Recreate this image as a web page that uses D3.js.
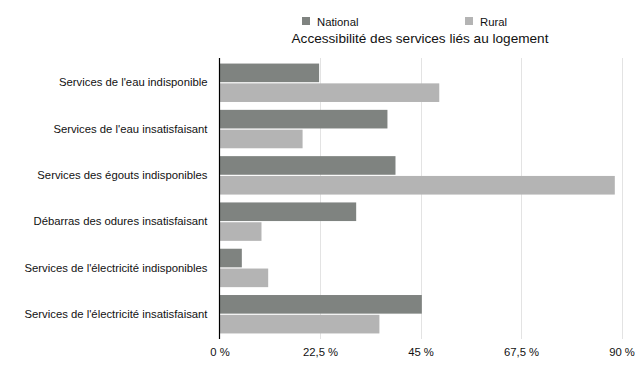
<!DOCTYPE html>
<html>
<head>
<meta charset="utf-8">
<script src="https://cdn.jsdelivr.net/npm/d3@7"></script>
<style>
  body { margin: 0; background: #fff; }
  text { font-family: "Liberation Sans", Arial, sans-serif; }
</style>
</head>
<body>
<div id="chart"></div>
<script>
// data
let categories = [
    "Services de l'eau indisponible",
    "Services de l'eau insatisfaisant",
    "Services des égouts indisponibles",
    "Débarras des odures insatisfaisant",
    "Services de l'électricité indisponibles",
    "Services de l'électricité insatisfaisant"
];
let series = ["National", "Rural"];
let nationalValues = [22.3, 37.6, 39.4, 30.6, 5.0, 45.3];
let ruralValues = [49.2, 18.6, 88.5, 9.4, 10.9, 35.8];
let tickValues = [0, 22.5, 45, 67.5, 90];
let colors = ["#7f8380", "#b4b4b4"];

let width = 640, height = 368;
let plot = {left: 219.5, right: 621.5, top: 58, bottom: 339}; //px

let svg = d3.select("#chart")
    .append("svg")
    .attr("width", width)
    .attr("height", height);

let x = d3.scaleLinear()
    .domain([0, 90])
    .range([plot.left, plot.right]);

let y = d3.scaleBand()
    .domain(categories)
    .range([plot.top, plot.bottom])
    .paddingInner(0.17)
    .paddingOuter(0.12);

let ySub = d3.scaleBand()
    .domain(series)
    .range([0, y.bandwidth()])
    .paddingInner(0.06);

// grid lines
svg.append("g")
    .selectAll("line")
    .data(tickValues.slice(1))
    .join("line")
    .attr("x1", d => Math.round(x(d)) + 0.5)
    .attr("x2", d => Math.round(x(d)) + 0.5)
    .attr("y1", plot.top)
    .attr("y2", plot.bottom)
    .attr("stroke", "#e3e3e3")
    .attr("stroke-width", 1);

// bars
let rows = categories.map((c, i) => ({cat: c, vals: [nationalValues[i], ruralValues[i]]}));

let groups = svg.append("g")
    .selectAll("g")
    .data(rows)
    .join("g")
    .attr("transform", d => "translate(0," + y(d.cat) + ")");

groups.selectAll("rect")
    .data(d => d.vals.map((v, j) => ({s: series[j], v: v, j: j})))
    .join("rect")
    .attr("x", x(0))
    .attr("y", d => ySub(d.s))
    .attr("width", d => x(d.v) - x(0))
    .attr("height", ySub.bandwidth())
    .attr("fill", d => colors[d.j]);

// x axis labels
let xAxis = d3.axisBottom(x)
    .tickValues(tickValues)
    .tickSize(0)
    .tickPadding(9)
    .tickFormat(d => String(d).replace(".", ",") + " %");

svg.append("g")
    .attr("transform", "translate(0," + plot.bottom + ")")
    .call(xAxis)
    .call(g => g.select(".domain").remove())
    .selectAll("text")
    .attr("font-size", "11.3px")
    .attr("fill", "#111");

// y axis
let yAxis = d3.axisLeft(y)
    .tickSize(0)
    .tickPadding(12);

svg.append("g")
    .attr("transform", "translate(" + plot.left + ",0)")
    .call(yAxis)
    .call(g => g.select(".domain").remove())
    .selectAll("text")
    .attr("font-size", "11.3px")
    .attr("fill", "#111");

svg.append("line")
    .attr("x1", plot.left)
    .attr("x2", plot.left)
    .attr("y1", plot.top)
    .attr("y2", plot.bottom)
    .attr("stroke", "#000")
    .attr("stroke-width", 1.2);

// legend
let legendX = [302, 465];
let legend = svg.append("g")
    .selectAll("g")
    .data(series)
    .join("g")
    .attr("transform", (d, i) => "translate(" + legendX[i] + ",17)");

legend.append("rect")
    .attr("width", 8)
    .attr("height", 8)
    .attr("fill", (d, i) => colors[i]);

legend.append("text")
    .attr("x", 15)
    .attr("y", 8.5)
    .attr("font-size", "11.3px")
    .attr("fill", "#111")
    .text(d => d);

// title
svg.append("text")
    .attr("x", 420)
    .attr("y", 43)
    .attr("text-anchor", "middle")
    .attr("font-size", "13.6px")
    .attr("fill", "#111")
    .text("Accessibilité des services liés au logement");
</script>
</body>
</html>
